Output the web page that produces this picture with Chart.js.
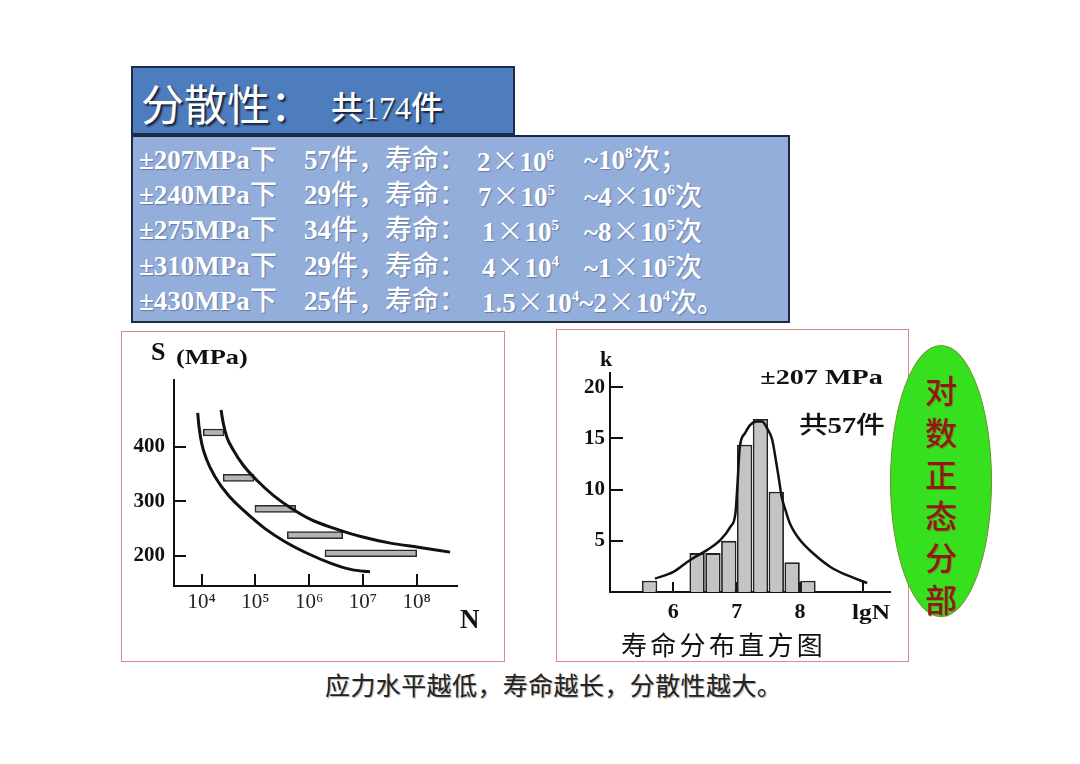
<!DOCTYPE html>
<html lang="zh">
<head>
<meta charset="utf-8">
<title>分散性</title>
<script src="https://cdn.jsdelivr.net/npm/chart.js@4.4.1/dist/chart.umd.min.js"></script>
<style>
@font-face{font-family:"CJKMed";src:local("Noto Sans CJK SC Medium"),local("NotoSansCJKsc-Medium"),local("Noto Sans CJK SC Regular"),local("NotoSansCJKsc-Regular");font-weight:100 900;}
html,body{margin:0;padding:0;background:#fff;}
body{width:1080px;height:764px;position:relative;overflow:hidden;font-family:"Liberation Serif","CJKMed","Noto Sans CJK SC",serif;}
.abs{position:absolute;white-space:nowrap;}
#titleBox{left:131px;top:66px;width:384px;height:69px;background:#4d7dbd;border:2px solid #1c2c4c;box-sizing:border-box;}
#titleMain{left:141px;top:74px;font-family:"Noto Sans CJK SC",sans-serif;font-size:43px;line-height:56px;color:#fff;text-shadow:2px 2px 2px #18203a;}
#titleSub{left:331px;top:88px;font-size:32px;line-height:40px;color:#fff;text-shadow:1.5px 1.5px 1.5px #18203a;}
#infoBox{left:131px;top:135px;width:659px;height:188px;background:#93aedb;border:2px solid #1f2a40;box-sizing:border-box;}
.row{position:absolute;left:0;height:36px;line-height:36px;font-size:27px;font-weight:bold;color:#fff;white-space:nowrap;text-shadow:1px 1px 1px rgba(40,60,100,.45);}
.row span.c{position:absolute;top:0;}
.x{font-family:"Noto Sans CJK SC",sans-serif;font-weight:normal;font-size:27px;margin:0 1px;}
sup{font-size:15px;line-height:0;vertical-align:0;position:relative;top:-11px;}
.frame{border:1.5px solid #d88a8a;box-sizing:border-box;}
canvas{position:absolute;}
#ellipse{left:890px;top:345px;width:102px;height:272px;border-radius:50%;background:#36e01e;border:1.5px solid #6d8f2c;box-sizing:border-box;}
#ellText{left:925px;top:369px;width:32px;font-family:"CJKMed","Noto Sans CJK SC",sans-serif;font-weight:bold;font-size:32px;line-height:41.8px;color:#8a1c14;text-align:center;text-shadow:1px 1px 0 #7a8a20;white-space:normal;}
.lbl{font-weight:bold;color:#111;}
</style>
</head>
<body>
<div id="titleBox" class="abs"></div>
<div id="titleMain" class="abs">分散性：</div>
<div id="titleSub" class="abs">共174件</div>

<div id="infoBox" class="abs"></div>
<div class="row" style="top:142px;"><span class="c" style="left:139px">±207MPa下</span><span class="c" style="left:304px">57件，寿命：</span><span class="c" style="left:477px">2<span class="x">×</span>10<sup>6</sup></span><span class="c" style="left:584px">~10<sup>8</sup>次；</span></div>
<div class="row" style="top:177px;"><span class="c" style="left:139px">±240MPa下</span><span class="c" style="left:304px">29件，寿命：</span><span class="c" style="left:478px">7<span class="x">×</span>10<sup>5</sup></span><span class="c" style="left:584px">~4<span class="x">×</span>10<sup>6</sup>次</span></div>
<div class="row" style="top:212px;"><span class="c" style="left:139px">±275MPa下</span><span class="c" style="left:304px">34件，寿命：</span><span class="c" style="left:482px">1<span class="x">×</span>10<sup>5</sup></span><span class="c" style="left:584px">~8<span class="x">×</span>10<sup>5</sup>次</span></div>
<div class="row" style="top:248px;"><span class="c" style="left:139px">±310MPa下</span><span class="c" style="left:304px">29件，寿命：</span><span class="c" style="left:482px">4<span class="x">×</span>10<sup>4</sup></span><span class="c" style="left:584px">~1<span class="x">×</span>10<sup>5</sup>次</span></div>
<div class="row" style="top:283px;"><span class="c" style="left:139px">±430MPa下</span><span class="c" style="left:304px">25件，寿命：</span><span class="c" style="left:482px">1.5<span class="x">×</span>10<sup>4</sup>~2<span class="x">×</span>10<sup>4</sup>次。</span></div>

<div class="abs frame" style="left:121px;top:331px;width:384px;height:331px;"></div>
<div class="abs frame" style="left:556px;top:329px;width:353px;height:333px;"></div>

<canvas id="snChart" width="384" height="331" style="left:121px;top:331px;"></canvas>
<canvas id="histChart" width="353" height="333" style="left:556px;top:329px;"></canvas>

<!-- S-N chart axis titles -->
<div class="abs lbl" style="left:151px;top:337px;font-size:26px;line-height:30px;">S</div>
<div class="abs lbl" style="left:176px;top:342px;font-size:22px;line-height:30px;transform:scaleX(1.2);transform-origin:left center;">(MPa)</div>
<div class="abs lbl" style="left:460px;top:602px;font-size:27px;line-height:34px;">N</div>

<!-- histogram texts -->
<div class="abs lbl" style="left:600px;top:344px;font-size:22px;line-height:30px;">k</div>
<div class="abs lbl" style="right:197px;top:362px;font-size:22px;line-height:30px;transform:scaleX(1.28);transform-origin:right center;">±207 MPa</div>
<div class="abs" style="right:195px;top:410px;font-size:24px;line-height:30px;color:#111;transform:scaleX(1.2);transform-origin:right center;">共<b>57</b>件</div>
<div class="abs lbl" style="left:852px;top:597px;font-size:22px;line-height:30px;transform:scaleX(1.15);transform-origin:left center;">lgN</div>
<div class="abs" style="left:621px;top:628px;font-family:'Noto Sans CJK SC',sans-serif;font-size:26px;line-height:32px;letter-spacing:3.3px;color:#111;">寿命分布直方图</div>

<div id="ellipse" class="abs"></div>
<div id="ellText" class="abs">对数正态分部</div>

<div class="abs" style="left:325px;top:669px;font-family:'Noto Sans CJK SC',sans-serif;font-size:25px;line-height:30px;letter-spacing:0.4px;color:#222;text-shadow:1px 1px 1px #aaa;">应力水平越低，寿命越长，分散性越大。</div>

<script>
// ---------- S–N diagram data ----------
const sTickValues = [200, 300, 400];
const nTickValues = [1e4, 1e5, 1e6, 1e7, 1e8];
const nTickLabels = ['10⁴', '10⁵', '10⁶', '10⁷', '10⁸'];
const bandStress = [426, 343, 286, 238, 205];
const bandStart  = [1.07e4, 2.51e4, 9.8e4, 3.92e5, 1.97e6];
const bandEnd    = [2.6e4, 9.4e4, 5.6e5, 4.2e6, 1.0e8];
const lowerN = [8.43e3, 8.91e3, 1.0e4, 1.24e4, 1.77e4, 3.13e4, 6.4e4, 1.51e5, 3.55e5, 9.6e5, 2.62e6, 6.17e6, 1.35e7];
const lowerS = [462, 437, 406, 376, 345, 311, 281, 250, 226, 204, 186, 175, 171];
const upperN = [2.29e4, 2.52e4, 2.92e4, 3.87e4, 5.94e4, 1.05e5, 2.15e5, 4.72e5, 1.11e6, 3.02e6, 9.48e6, 3.43e7, 1.07e8, 4.17e8];
const upperS = [467, 443, 418, 394, 366, 339, 311, 287, 266, 250, 235, 223, 216, 207];

// ---------- histogram data (±207 MPa, 57 specimens) ----------
const kTickValues = [5, 10, 15, 20];
const lgTickValues = [6, 7, 8, 9];
const lgTickLabels = ['6', '7', '8', ''];
const binCenters = [5.625, 6.375, 6.625, 6.875, 7.125, 7.375, 7.625, 7.875, 8.125];
const binCounts  = [1.1, 3.8, 3.8, 5.0, 14.4, 16.9, 9.8, 2.9, 1.1];
const curveLgN = [5.71, 6.0, 6.26, 6.53, 6.74, 6.90, 6.98, 7.01, 7.05, 7.13, 7.21, 7.32, 7.40, 7.48, 7.56, 7.61, 7.66, 7.71, 7.77, 7.84, 8.0, 8.21, 8.48, 8.74, 9.06];
const curveK   = [1.31, 1.96, 3.11, 4.09, 5.07, 6.37, 7.69, 10.3, 14.2, 15.5, 16.3, 16.67, 16.67, 16.0, 14.9, 13.2, 11.3, 9.3, 8.0, 6.7, 5.07, 3.76, 2.45, 1.64, 0.88];

Chart.defaults.font.family = '"Liberation Serif", "Times New Roman", serif';
const axisColor = '#111';

new Chart(document.getElementById('snChart'), {
  type: 'bar',
  data: {
    datasets: [
      {
        type: 'bar',
        data: bandStress.map((s, i) => ({ y: s, x: [bandStart[i], bandEnd[i]] })),
        backgroundColor: '#b4b4b4',
        borderColor: '#2a2a2a',
        borderWidth: 1.5,
        borderSkipped: false,
        barThickness: 7,
        order: 1
      },
      {
        type: 'line', indexAxis: 'x',
        data: lowerN.map((n, i) => ({ x: n, y: lowerS[i] })),
        borderColor: '#111', borderWidth: 3, pointRadius: 0,
        cubicInterpolationMode: 'monotone', fill: false, order: 0
      },
      {
        type: 'line', indexAxis: 'x',
        data: upperN.map((n, i) => ({ x: n, y: upperS[i] })),
        borderColor: '#111', borderWidth: 3, pointRadius: 0,
        cubicInterpolationMode: 'monotone', fill: false, order: 0
      }
    ]
  },
  options: {
    indexAxis: 'y',
    responsive: false,
    animation: false,
    layout: { padding: { left: 8, right: 48, top: 49, bottom: 36 } },
    plugins: { legend: { display: false }, tooltip: { enabled: false } },
    scales: {
      x: {
        type: 'logarithmic', min: 3055, max: 5.62e8, bounds: 'data',
        afterBuildTicks: s => { s.ticks = nTickValues.map(v => ({ value: v })); },
        afterFit: s => { s.height = 40; },
        ticks: { callback: (v, i) => nTickLabels[i], font: { size: 21 }, color: '#222', padding: 16, maxRotation: 0, autoSkip: false },
        grid: { drawOnChartArea: false, tickLength: -12, color: axisColor, lineWidth: 2 },
        border: { color: axisColor, width: 2 }
      },
      y: {
        type: 'linear', min: 145, max: 522, offset: false, bounds: 'data',
        afterBuildTicks: s => { s.ticks = sTickValues.map(v => ({ value: v })); },
        afterFit: s => { s.width = 45; },
        ticks: { font: { size: 21, weight: 'bold' }, color: '#111', padding: 21, autoSkip: false },
        grid: { drawOnChartArea: false, offset: false, tickLength: -12, color: axisColor, lineWidth: 2 },
        border: { color: axisColor, width: 2 }
      }
    }
  }
});

new Chart(document.getElementById('histChart'), {
  type: 'bar',
  data: {
    datasets: [
      {
        type: 'bar',
        data: binCenters.map((c, i) => ({ x: c, y: binCounts[i] })),
        backgroundColor: '#c4c4c4',
        borderColor: '#222',
        borderWidth: 1.8,
        categoryPercentage: 1,
        barPercentage: 0.97,
        order: 1
      },
      {
        type: 'line',
        data: curveLgN.map((x, i) => ({ x: x, y: curveK[i] })),
        borderColor: '#111', borderWidth: 2.5, pointRadius: 0,
        cubicInterpolationMode: 'monotone', fill: false, order: 0
      }
    ]
  },
  options: {
    responsive: false,
    animation: false,
    layout: { padding: { left: 10, right: 19, top: 44, bottom: 30 } },
    plugins: { legend: { display: false }, tooltip: { enabled: false } },
    scales: {
      x: {
        type: 'linear', min: 5.0, max: 9.42, offset: false, bounds: 'data',
        afterBuildTicks: s => { s.ticks = lgTickValues.map(v => ({ value: v })); },
        afterFit: s => { s.height = 40; },
        ticks: { callback: (v, i) => lgTickLabels[i], font: { size: 22, weight: 'bold' }, color: '#111', padding: 17, maxRotation: 0, autoSkip: false },
        grid: { drawOnChartArea: false, offset: false, tickLength: -10, color: axisColor, lineWidth: 2 },
        border: { color: axisColor, width: 2 }
      },
      y: {
        type: 'linear', min: 0, max: 21.4, bounds: 'data',
        afterBuildTicks: s => { s.ticks = kTickValues.map(v => ({ value: v })); },
        afterFit: s => { s.width = 44; },
        ticks: { font: { size: 21, weight: 'bold' }, color: '#111', padding: 18, autoSkip: false },
        grid: { drawOnChartArea: false, tickLength: -13, color: axisColor, lineWidth: 2 },
        border: { color: axisColor, width: 2 }
      }
    }
  }
});
</script>
</body>
</html>
